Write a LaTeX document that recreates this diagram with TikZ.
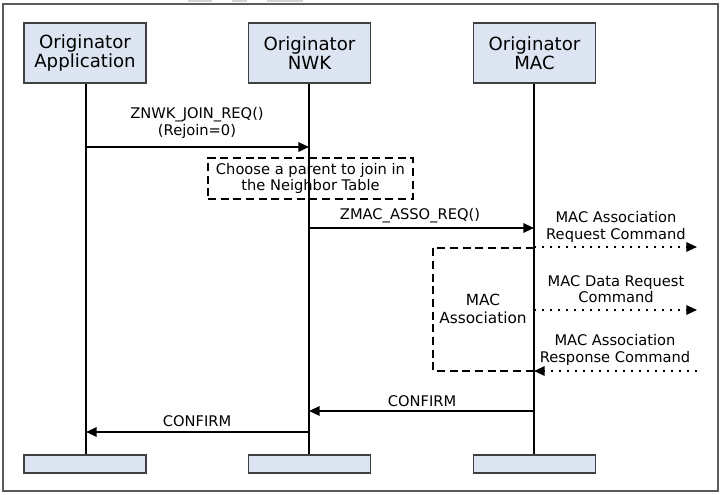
\documentclass[tikz,border=0pt]{standalone}
\usepackage{fontspec}
\setmainfont{DejaVu Sans}
\usetikzlibrary{arrows.meta}
\definecolor{boxfill}{HTML}{DDE5F2}
\definecolor{boxline}{HTML}{404040}
\definecolor{framecol}{HTML}{5A5A5A}
\tikzset{
  actor/.style={draw=boxline, fill=boxfill, line width=1.2pt, minimum width=91.5pt, minimum height=45pt, align=center, inner sep=0pt, font=\fontsize{13.6}{14.5}\selectfont},
  footbox/.style={draw=boxline, fill=boxfill, line width=1.2pt, minimum width=91.5pt, minimum height=13.5pt, inner sep=0pt},
  life/.style={line width=1.5pt, black},
  msg/.style={line width=1.5pt, -{Triangle[length=8pt,width=7pt]}},
  dmsg/.style={line width=1.5pt, dash pattern=on 1.5pt off 4.5pt, -{Triangle[length=8pt,width=7pt]}},
  lbl/.style={font=\fontsize{11}{12.2}\selectfont, align=center, inner sep=0pt},
  note/.style={draw, line width=1.4pt, dash pattern=on 6pt off 3.5pt, align=center, inner sep=0pt, font=\fontsize{11}{12.2}\selectfont}
}
\begin{document}
\begin{tikzpicture}[x=0.75pt,y=-0.75pt]
\useasboundingbox (0,0) rectangle (721,495);
\fill[white] (0,0) rectangle (721,495);
% top artifacts
\fill[gray!35] (188,0) rectangle (212,2.5);
\fill[gray!35] (232,0) rectangle (247,2.5);
\fill[gray!35] (267,0) rectangle (303,2.5);
% frame
\draw[framecol, line width=1.3pt] (3,4) rectangle (718,491);
% actors
\node[actor] (app) at (85,53) {Originator\\Application};
\node[actor] (nwk) at (309.5,53) {Originator\\NWK};
\node[actor] (mac) at (534.5,53) {Originator\\MAC};
\node[footbox] (appb) at (85,464) {};
\node[footbox] (nwkb) at (309.5,464) {};
\node[footbox] (macb) at (534.5,464) {};
% lifelines
\coordinate (appx) at (86,0);
\coordinate (nwkx) at (309,0);
\coordinate (macx) at (534,0);
\draw[life] (app.south -| appx) -- (appb.north -| appx);
\draw[life] (nwk.south -| nwkx) -- (nwkb.north -| nwkx);
\draw[life] (mac.south -| macx) -- (macb.north -| macx);
% message points
\coordinate (j1) at (86,147);
\coordinate (j2) at (309,147);
\coordinate (z1) at (309,228);
\coordinate (z2) at (534,228);
\coordinate (r1) at (534,247);
\coordinate (r2) at (697,247);
\coordinate (d1) at (534,310);
\coordinate (d2) at (697,310);
\coordinate (s1) at (697,371);
\coordinate (s2) at (534,371);
\coordinate (c1) at (534,411);
\coordinate (c2) at (309,411);
\coordinate (k1) at (309,432);
\coordinate (k2) at (86,432);
% messages
\draw[msg] (j1) -- (j2);
\node[lbl] (jl) at (197,123) {ZNWK\_JOIN\_REQ()\\(Rejoin=0)};
\node[note, minimum width=153.75pt, minimum height=30.75pt] (choose) at (310.5,178.5) {Choose a parent to join in\\the Neighbor Table};
\draw[msg] (z1) -- (z2);
\node[lbl] (zl) at (410,216) {ZMAC\_ASSO\_REQ()};
% MAC association dashed box
\draw[line width=1.4pt, dash pattern=on 6pt off 3.5pt] (534,248) -- (433,248) -- (433,371) -- (534,371);
\node[lbl, font=\fontsize{11.5}{13.5}\selectfont] (assoc) at (483,309) {MAC\\Association};
\draw[dmsg] (r1) -- (r2);
\node[lbl] (rl) at (616,227) {MAC Association\\Request Command};
\draw[dmsg] (d1) -- (d2);
\node[lbl] (dl) at (616,289) {MAC Data Request\\Command};
\draw[dmsg] (s1) -- (s2);
\node[lbl] (sl) at (615,350) {MAC Association\\Response Command};
\draw[msg] (c1) -- (c2);
\node[lbl] (cl) at (422,401) {CONFIRM};
\draw[msg] (k1) -- (k2);
\node[lbl] (kl) at (197,421) {CONFIRM};
\end{tikzpicture}
\end{document}
